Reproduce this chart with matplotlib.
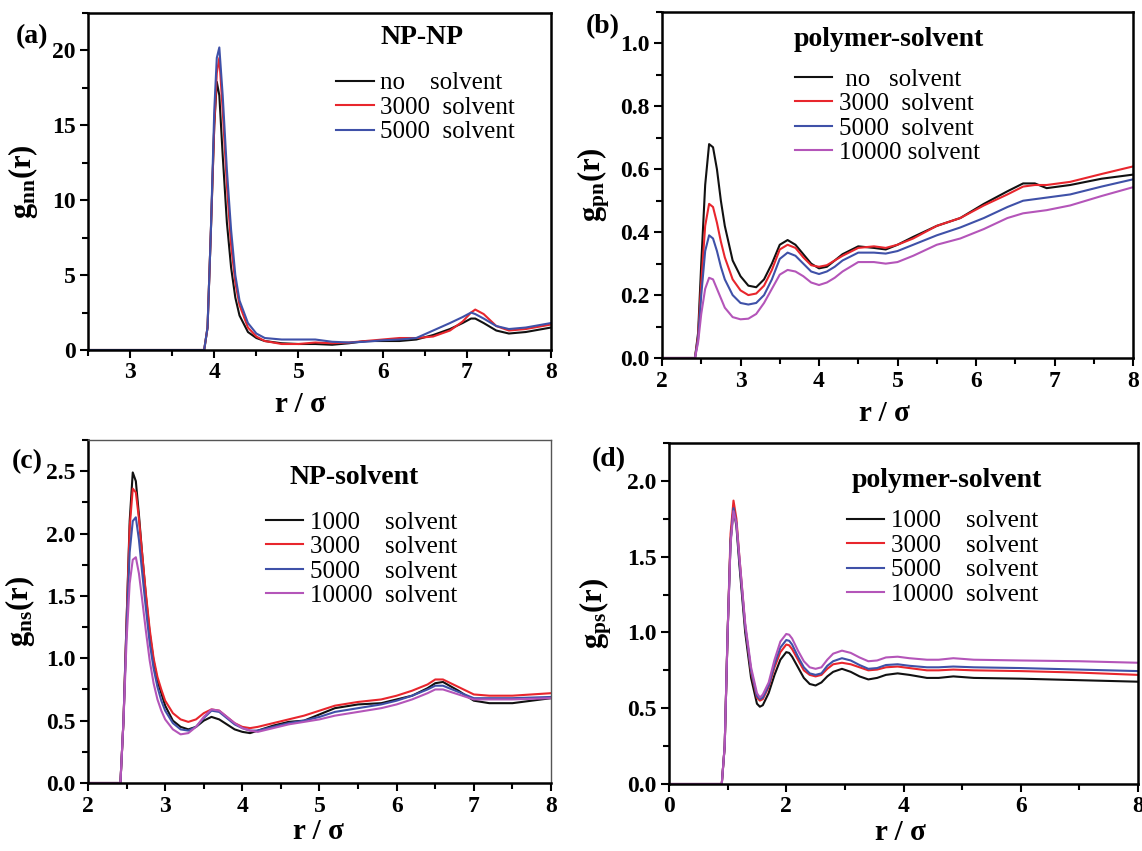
import matplotlib
matplotlib.use("Agg")
import matplotlib.pyplot as plt
from matplotlib.ticker import MultipleLocator

plt.rcParams['font.family'] = ['Liberation Serif', 'DejaVu Serif']
plt.rcParams['mathtext.fontset'] = 'custom'
plt.rcParams['mathtext.rm'] = 'Liberation Serif'
plt.rcParams['mathtext.bf'] = 'Liberation Serif:bold'
plt.rcParams['mathtext.it'] = 'Liberation Serif:italic'

# ---------------- data ----------------
# (a) NP-NP
r_a = [2.5, 3.88, 3.92, 3.96, 4.0, 4.03, 4.06, 4.1, 4.15, 4.2, 4.25, 4.3, 4.4, 4.5, 4.6,
       4.8, 5.0, 5.2, 5.4, 5.6, 5.8, 6.0, 6.2, 6.4, 6.6, 6.8, 6.95, 7.05, 7.1, 7.2, 7.35,
       7.5, 7.7, 8.0]
a_none = [0, 0, 1.5, 8, 15, 17.9, 17, 13, 8.5, 5.5, 3.5, 2.3, 1.2, 0.8, 0.6, 0.45, 0.4,
          0.4, 0.35, 0.45, 0.6, 0.6, 0.6, 0.7, 1.0, 1.4, 1.8, 2.1, 2.1, 1.8, 1.3, 1.1, 1.2, 1.5]
a_3000 = [0, 0, 1.5, 8, 15, 18.5, 19.5, 16, 11, 7, 4.5, 3, 1.5, 0.9, 0.6, 0.4, 0.4, 0.5,
          0.45, 0.5, 0.6, 0.7, 0.8, 0.8, 0.9, 1.3, 1.9, 2.5, 2.7, 2.4, 1.6, 1.3, 1.4, 1.7]
a_5000 = [0, 0, 1.5, 8, 16, 19.5, 20.2, 17, 12, 8, 5, 3.3, 1.8, 1.1, 0.8, 0.7, 0.7, 0.7,
          0.55, 0.5, 0.55, 0.65, 0.7, 0.8, 1.3, 1.8, 2.2, 2.5, 2.4, 2.1, 1.6, 1.4, 1.5, 1.8]
labels_a = ["no    solvent", "3000  solvent", "5000  solvent"]

# (b) polymer-NP
r_b = [2.0, 2.42, 2.46, 2.5, 2.55, 2.6, 2.65, 2.7, 2.75, 2.8, 2.9, 3.0, 3.1, 3.2, 3.3, 3.4,
       3.5, 3.6, 3.7, 3.8, 3.9, 4.0, 4.1, 4.2, 4.3, 4.5, 4.7, 4.85, 5.0, 5.2, 5.5, 5.8, 6.1,
       6.4, 6.6, 6.75, 6.9, 7.2, 7.6, 8.0]
b_none = [0, 0, 0.08, 0.3, 0.55, 0.68, 0.67, 0.6, 0.5, 0.42, 0.31, 0.26, 0.23, 0.225, 0.25,
          0.3, 0.36, 0.375, 0.36, 0.33, 0.3, 0.285, 0.29, 0.31, 0.33, 0.355, 0.35, 0.345,
          0.36, 0.385, 0.42, 0.445, 0.49, 0.53, 0.555, 0.555, 0.54, 0.55, 0.57, 0.583]
b_3000 = [0, 0, 0.07, 0.24, 0.42, 0.49, 0.48, 0.43, 0.37, 0.32, 0.25, 0.215, 0.2, 0.205,
          0.23, 0.28, 0.345, 0.36, 0.35, 0.32, 0.295, 0.29, 0.295, 0.31, 0.325, 0.35, 0.355,
          0.35, 0.36, 0.38, 0.42, 0.445, 0.485, 0.52, 0.545, 0.55, 0.55, 0.56, 0.585, 0.609]
b_5000 = [0, 0, 0.06, 0.2, 0.34, 0.39, 0.38, 0.34, 0.29, 0.25, 0.2, 0.175, 0.17, 0.175, 0.2,
          0.25, 0.315, 0.335, 0.325, 0.3, 0.275, 0.267, 0.275, 0.29, 0.31, 0.335, 0.335,
          0.332, 0.34, 0.36, 0.39, 0.415, 0.445, 0.48, 0.5, 0.505, 0.51, 0.52, 0.545, 0.568]
b_10000 = [0, 0, 0.05, 0.14, 0.22, 0.255, 0.25, 0.22, 0.19, 0.16, 0.13, 0.123, 0.125, 0.14,
           0.175, 0.22, 0.265, 0.28, 0.275, 0.26, 0.24, 0.232, 0.24, 0.255, 0.275, 0.305,
           0.305, 0.3, 0.305, 0.325, 0.36, 0.38, 0.41, 0.445, 0.46, 0.465, 0.47, 0.485,
           0.515, 0.543]
labels_b = [" no   solvent", "3000  solvent", "5000  solvent", "10000 solvent"]

# (c) NP-solvent
r_c = [2.0, 2.42, 2.46, 2.5, 2.54, 2.58, 2.62, 2.66, 2.7, 2.75, 2.8, 2.85, 2.9, 2.95, 3.0,
       3.1, 3.2, 3.3, 3.4, 3.5, 3.6, 3.7, 3.8, 3.9, 4.0, 4.1, 4.2, 4.4, 4.6, 4.8, 5.0, 5.2,
       5.5, 5.8, 6.0, 6.2, 6.4, 6.5, 6.6, 6.8, 7.0, 7.2, 7.5, 8.0]
c_1000 = [0, 0, 0.5, 1.3, 2.1, 2.49, 2.42, 2.15, 1.85, 1.5, 1.2, 0.98, 0.82, 0.72, 0.62,
          0.5, 0.45, 0.43, 0.45, 0.5, 0.53, 0.51, 0.47, 0.43, 0.41, 0.40, 0.42, 0.46, 0.49,
          0.5, 0.55, 0.6, 0.63, 0.64, 0.67, 0.7, 0.76, 0.8, 0.81, 0.74, 0.66, 0.64, 0.64, 0.68]
c_3000 = [0, 0, 0.5, 1.3, 2.05, 2.36, 2.33, 2.12, 1.85, 1.52, 1.23, 1.0, 0.85, 0.75, 0.66,
          0.56, 0.51, 0.49, 0.51, 0.56, 0.59, 0.58, 0.53, 0.48, 0.45, 0.44, 0.45, 0.48, 0.51,
          0.54, 0.58, 0.62, 0.65, 0.67, 0.70, 0.74, 0.79, 0.83, 0.83, 0.77, 0.71, 0.70, 0.70,
          0.72]
c_5000 = [0, 0, 0.5, 1.25, 1.85, 2.1, 2.13, 1.95, 1.7, 1.4, 1.12, 0.92, 0.77, 0.66, 0.58,
          0.48, 0.43, 0.42, 0.45, 0.52, 0.58, 0.57, 0.52, 0.47, 0.44, 0.42, 0.42, 0.45, 0.48,
          0.5, 0.53, 0.57, 0.6, 0.63, 0.66, 0.7, 0.75, 0.78, 0.78, 0.73, 0.68, 0.68, 0.68, 0.69]
c_10000 = [0, 0, 0.5, 1.15, 1.6, 1.79, 1.81, 1.68, 1.48, 1.22, 0.98, 0.8, 0.67, 0.58, 0.51,
           0.43, 0.39, 0.40, 0.45, 0.53, 0.59, 0.58, 0.53, 0.48, 0.44, 0.42, 0.41, 0.44,
           0.47, 0.49, 0.51, 0.54, 0.57, 0.6, 0.63, 0.67, 0.72, 0.75, 0.75, 0.71, 0.67, 0.67,
           0.67, 0.68]
labels_cd = ["1000    solvent", "3000    solvent", "5000    solvent", "10000  solvent"]

# (d) polymer-solvent
r_d = [0, 0.9, 0.95, 1.0, 1.05, 1.1, 1.15, 1.2, 1.3, 1.4, 1.5, 1.55, 1.6, 1.7, 1.8, 1.9,
       2.0, 2.05, 2.1, 2.2, 2.3, 2.4, 2.5, 2.6, 2.7, 2.8, 2.95, 3.1, 3.25, 3.4, 3.55, 3.7,
       3.9, 4.1, 4.4, 4.6, 4.85, 5.2, 6.0, 7.0, 8.0]
d_1000 = [0, 0, 0.25, 1.0, 1.6, 1.82, 1.7, 1.45, 1.0, 0.7, 0.53, 0.51, 0.52, 0.6, 0.72,
          0.82, 0.87, 0.865, 0.84, 0.77, 0.70, 0.66, 0.65, 0.67, 0.71, 0.74, 0.76, 0.74,
          0.71, 0.69, 0.70, 0.72, 0.73, 0.72, 0.70, 0.70, 0.71, 0.70, 0.695, 0.685, 0.675]
d_3000 = [0, 0, 0.25, 1.0, 1.65, 1.87, 1.75, 1.5, 1.04, 0.74, 0.57, 0.55, 0.56, 0.64, 0.77,
          0.87, 0.92, 0.915, 0.89, 0.82, 0.75, 0.72, 0.71, 0.72, 0.76, 0.79, 0.80, 0.79,
          0.77, 0.75, 0.755, 0.77, 0.775, 0.765, 0.75, 0.75, 0.755, 0.75, 0.745, 0.735, 0.72]
d_5000 = [0, 0, 0.25, 1.0, 1.6, 1.82, 1.72, 1.48, 1.04, 0.75, 0.58, 0.56, 0.57, 0.65, 0.79,
          0.9, 0.95, 0.945, 0.92, 0.84, 0.77, 0.73, 0.72, 0.73, 0.78, 0.81, 0.83, 0.815,
          0.785, 0.76, 0.765, 0.785, 0.79, 0.78, 0.77, 0.77, 0.775, 0.77, 0.765, 0.755, 0.745]
d_10000 = [0, 0, 0.25, 1.0, 1.58, 1.80, 1.72, 1.5, 1.06, 0.77, 0.6, 0.57, 0.59, 0.67, 0.82,
           0.94, 0.99, 0.985, 0.96, 0.88, 0.81, 0.77, 0.76, 0.77, 0.82, 0.86, 0.88, 0.865,
           0.835, 0.81, 0.815, 0.835, 0.84, 0.83, 0.82, 0.82, 0.83, 0.82, 0.815, 0.81, 0.80]

colors = ['#111111', '#e8262d', '#3f51a8', '#b455b9']

# ---------------- figure ----------------
W, H = 1142, 851
fig = plt.figure(figsize=(W / 100, H / 100), dpi=100)

def px_rect(l, t, r, b):
    return [l / W, 1 - b / H, (r - l) / W, (b - t) / H]

def ftext(px, py, s, **kw):
    fig.text(px / W, 1 - py / H, s, **kw)

def style(ax, xlim, ylim, xmaj, xmin, ymaj, ymin, fmt, thin_tr=False):
    ax.set_xlim(*xlim)
    ax.set_ylim(*ylim)
    ax.xaxis.set_major_locator(MultipleLocator(xmaj))
    ax.xaxis.set_minor_locator(MultipleLocator(xmin))
    ax.yaxis.set_major_locator(MultipleLocator(ymaj))
    ax.yaxis.set_minor_locator(MultipleLocator(ymin))
    ax.yaxis.set_major_formatter(plt.FormatStrFormatter(fmt))
    ax.tick_params(which='both', direction='out', top=False, right=False, width=1.5)
    ax.tick_params(which='major', length=6, labelsize=17, pad=3)
    ax.tick_params(which='minor', length=4)
    for lab in ax.get_xticklabels() + ax.get_yticklabels():
        lab.set_fontweight('bold')
    for sp in ax.spines.values():
        sp.set_linewidth(1.8)
    if thin_tr:
        for k in ('top', 'right'):
            ax.spines[k].set_linewidth(1.0)
            ax.spines[k].set_color('#555555')

def add_legend(ax, handles, labels, x, y):
    ax.legend(handles, labels, loc='upper left', bbox_to_anchor=(x, y), frameon=False,
              fontsize=18, handlelength=1.5, handletextpad=0.25, labelspacing=0.08,
              borderpad=0, borderaxespad=0)

XL = dict(fontsize=21, fontweight='bold')
YL = dict(fontsize=22)

# (a)
ax_a = fig.add_axes(px_rect(88, 13, 551, 350))
hs = []
for ys, c in zip([a_none, a_3000, a_5000], colors):
    hs.append(ax_a.plot(r_a, ys, color=c, lw=1.5)[0])
style(ax_a, (2.5, 8), (0, 22.5), 1, 0.5, 5, 2.5, '%d')
ax_a.set_xlabel('r / σ', **XL)
ax_a.xaxis.set_label_coords((300 - 88) / 463, (350 - 391) / 337)
ax_a.set_ylabel(r'$\mathbf{g_{nn}(r)}$', **YL)
ax_a.yaxis.set_label_coords((40 - 88) / 463, 0.5)
add_legend(ax_a, hs, labels_a, 0.536, 0.825)
ftext(16, 37, '(a)', fontsize=20, fontweight='bold', va='center', ha='left')
ftext(422, 37, 'NP-NP', fontsize=20, fontweight='bold', va='center', ha='center')

# (b)
ax_b = fig.add_axes(px_rect(662, 12, 1133, 358))
hs = []
for ys, c in zip([b_none, b_3000, b_5000, b_10000], colors):
    hs.append(ax_b.plot(r_b, ys, color=c, lw=1.5)[0])
style(ax_b, (2, 8), (0, 1.1), 1, 0.5, 0.2, 0.1, '%.1f')
ax_b.set_xlabel('r / σ', **XL)
ax_b.xaxis.set_label_coords((884 - 662) / 471, (358 - 400) / 346)
ax_b.set_ylabel(r'$\mathbf{g_{pn}(r)}$', **YL)
ax_b.yaxis.set_label_coords((612 - 662) / 471, 0.5)
add_legend(ax_b, hs, labels_b, 0.282, 0.838)
ftext(586, 27, '(b)', fontsize=20, fontweight='bold', va='center', ha='left')
ftext(889, 40, 'polymer-solvent', fontsize=20, fontweight='bold', va='center', ha='center')

# (c)
ax_c = fig.add_axes(px_rect(88, 440, 551, 783))
hs = []
for ys, c in zip([c_1000, c_3000, c_5000, c_10000], colors):
    hs.append(ax_c.plot(r_c, ys, color=c, lw=1.5)[0])
style(ax_c, (2, 8), (0, 2.75), 1, 0.5, 0.5, 0.25, '%.1f', thin_tr=True)
ax_c.set_xlabel('r / σ', **XL)
ax_c.xaxis.set_label_coords((318 - 88) / 463, (783 - 818) / 343)
ax_c.set_ylabel(r'$\mathbf{g_{ns}(r)}$', **YL)
ax_c.yaxis.set_label_coords((37 - 88) / 463, 0.5)
add_legend(ax_c, hs, labels_cd, 0.384, 0.793)
ftext(12, 462, '(c)', fontsize=20, fontweight='bold', va='center', ha='left')
ftext(354, 477, 'NP-solvent', fontsize=20, fontweight='bold', va='center', ha='center')

# (d)
ax_d = fig.add_axes(px_rect(669, 443, 1138, 784))
hs = []
for ys, c in zip([d_1000, d_3000, d_5000, d_10000], colors):
    hs.append(ax_d.plot(r_d, ys, color=c, lw=1.5)[0])
style(ax_d, (0, 8), (0, 2.25), 2, 1, 0.5, 0.25, '%.1f')
ax_d.set_xlabel('r / σ', **XL)
ax_d.xaxis.set_label_coords((900 - 669) / 469, (784 - 819) / 341)
ax_d.set_ylabel(r'$\mathbf{g_{ps}(r)}$', **YL)
ax_d.yaxis.set_label_coords((614 - 669) / 469, 0.5)
add_legend(ax_d, hs, labels_cd, 0.3795, 0.804)
ftext(592, 460, '(d)', fontsize=20, fontweight='bold', va='center', ha='left')
ftext(947, 481, 'polymer-solvent', fontsize=20, fontweight='bold', va='center', ha='center')

fig.savefig('out.png', dpi=100)
